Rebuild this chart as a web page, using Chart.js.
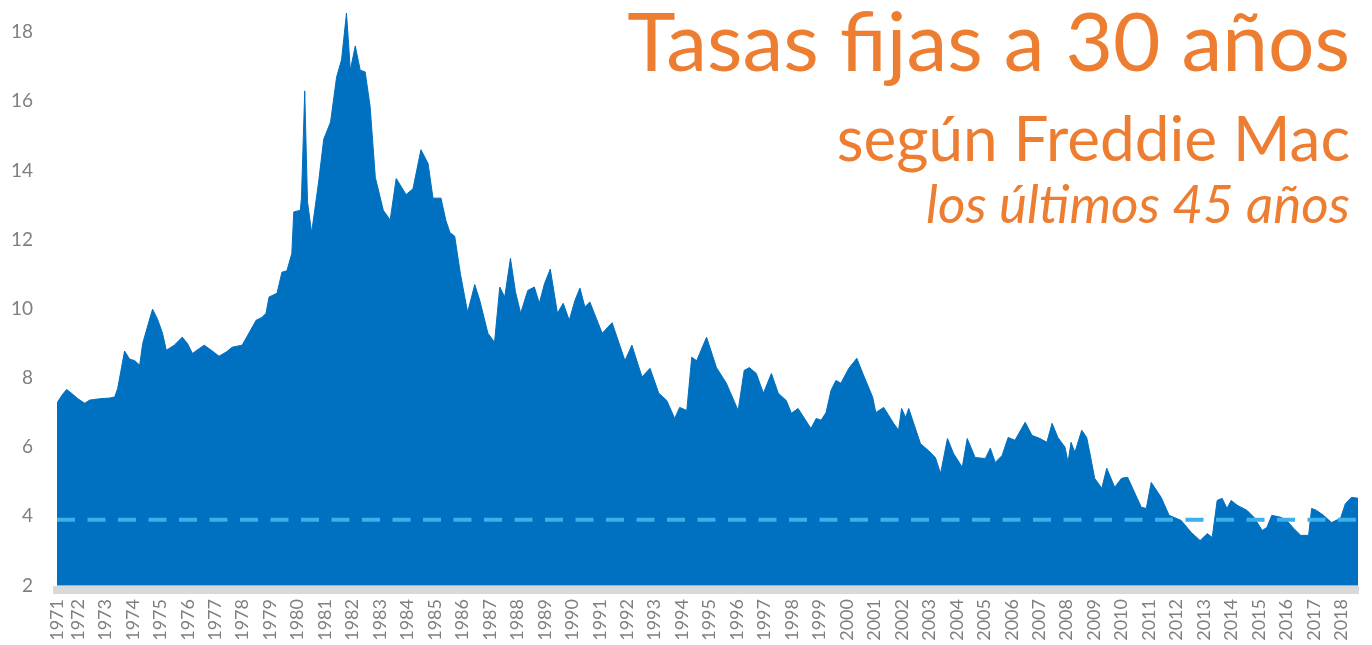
<!DOCTYPE html>
<html>
<head>
<meta charset="utf-8">
<script src="https://cdn.jsdelivr.net/npm/chart.js@4.4.1/dist/chart.umd.min.js"></script>
<style>
  body { margin: 0; background: #fff; }
  #wrap { position: relative; width: 1372px; height: 645px; }
  .title { position: absolute; right: 22px; color: #ed7d31; font-family: Lato, "Open Sans", sans-serif; line-height: 1; white-space: nowrap; }
</style>
</head>
<body>
<div id="wrap">
  <canvas id="myChart"></canvas>
  <div class="title" style="top: -2px; font-size: 82px;">Tasas fijas a 30 años</div>
  <div class="title" style="top: 106px; font-size: 62px;">según Freddie Mac</div>
  <div class="title" style="top: 176px; font-size: 53px; font-style: italic;">los últimos 45 años</div>
</div>
<script>
// fechas en años decimales, tasa en %
const years = [
  1971.24, 1971.42, 1971.59, 1971.78, 1972.0, 1972.25, 1972.43, 1972.8, 1973.16, 1973.34,
  1973.45, 1973.59, 1973.7, 1973.88, 1974.07, 1974.25, 1974.36, 1974.54, 1974.72, 1974.9,
  1975.08, 1975.22, 1975.51, 1975.8, 1975.99, 1976.17, 1976.42, 1976.6, 1976.86, 1977.14,
  1977.4, 1977.62, 1977.98, 1978.23, 1978.49, 1978.7, 1978.85, 1978.96, 1979.25, 1979.43,
  1979.61, 1979.79, 1979.86, 1980.1, 1980.14, 1980.26, 1980.36, 1980.51, 1980.77, 1980.95,
  1981.2, 1981.42, 1981.6, 1981.78, 1981.92, 1982.1, 1982.28, 1982.46, 1982.64, 1982.83,
  1983.12, 1983.37, 1983.59, 1983.95, 1984.2, 1984.49, 1984.75, 1984.93, 1985.22, 1985.4,
  1985.55, 1985.72, 1985.93, 1986.19, 1986.45, 1986.63, 1986.93, 1987.17, 1987.36, 1987.54,
  1987.75, 1987.93, 1988.12, 1988.38, 1988.62, 1988.8, 1988.99, 1989.2, 1989.46, 1989.67,
  1989.89, 1990.1, 1990.28, 1990.46, 1990.64, 1991.09, 1991.45, 1991.92, 1992.17, 1992.54,
  1992.83, 1993.15, 1993.44, 1993.73, 1993.91, 1994.17, 1994.35, 1994.53, 1994.89, 1995.25,
  1995.61, 1996.04, 1996.26, 1996.45, 1996.7, 1996.96, 1997.25, 1997.5, 1997.79, 1997.98,
  1998.22, 1998.69, 1998.88, 1999.06, 1999.24, 1999.42, 1999.6, 1999.78, 2000.07, 2000.36,
  2000.58, 2000.94, 2001.05, 2001.34, 2001.7, 2001.88, 2001.99, 2002.14, 2002.25, 2002.68,
  2002.97, 2003.22, 2003.41, 2003.66, 2003.88, 2004.2, 2004.38, 2004.67, 2005.04, 2005.22,
  2005.4, 2005.65, 2005.87, 2006.12, 2006.49, 2006.74, 2007.03, 2007.28, 2007.47, 2007.68,
  2007.94, 2008.05, 2008.16, 2008.3, 2008.55, 2008.73, 2008.84, 2009.02, 2009.28, 2009.46,
  2009.75, 2010.0, 2010.22, 2010.72, 2010.9, 2011.08, 2011.44, 2011.73, 2012.17, 2012.54,
  2012.86, 2013.12, 2013.3, 2013.48, 2013.66, 2013.84, 2013.99, 2014.21, 2014.57, 2014.82,
  2015.12, 2015.29, 2015.47, 2015.8, 2016.01, 2016.27, 2016.52, 2016.81, 2016.92, 2017.1,
  2017.35, 2017.64, 2017.97, 2018.15, 2018.37, 2018.62
];

const rates = [
  7.28, 7.50, 7.67, 7.55, 7.40, 7.27, 7.36, 7.40, 7.42, 7.45,
  7.70, 8.30, 8.78, 8.55, 8.50, 8.37, 9.00, 9.50, 9.99, 9.70,
  9.30, 8.80, 8.95, 9.18, 9.00, 8.71, 8.85, 8.95, 8.80, 8.63,
  8.75, 8.89, 8.95, 9.30, 9.67, 9.75, 9.87, 10.34, 10.45, 11.06,
  11.10, 11.60, 12.80, 12.85, 13.20, 16.30, 13.10, 12.20, 13.70, 14.90,
  15.40, 16.70, 17.20, 18.55, 16.90, 17.60, 16.90, 16.85, 15.85, 13.80,
  12.85, 12.57, 13.77, 13.30, 13.47, 14.60, 14.20, 13.20, 13.20, 12.55,
  12.20, 12.10, 11.00, 9.90, 10.70, 10.25, 9.29, 9.03, 10.63, 10.34,
  11.46, 10.50, 9.87, 10.53, 10.63, 10.16, 10.73, 11.15, 9.87, 10.16,
  9.67, 10.25, 10.60, 10.05, 10.20, 9.29, 9.60, 8.50, 8.95, 8.03,
  8.28, 7.56, 7.35, 6.83, 7.15, 7.06, 8.60, 8.50, 9.18, 8.30,
  7.85, 7.06, 8.22, 8.30, 8.13, 7.56, 8.13, 7.56, 7.35, 6.98,
  7.12, 6.54, 6.83, 6.78, 7.00, 7.64, 7.93, 7.85, 8.28, 8.57,
  8.13, 7.44, 7.00, 7.15, 6.69, 6.49, 7.12, 6.86, 7.12, 6.10,
  5.90, 5.70, 5.24, 6.25, 5.82, 5.42, 6.25, 5.70, 5.67, 5.97,
  5.56, 5.76, 6.28, 6.20, 6.72, 6.34, 6.25, 6.14, 6.69, 6.28,
  6.00, 5.56, 6.14, 5.85, 6.49, 6.28, 5.85, 5.10, 4.81, 5.39,
  4.84, 5.10, 5.13, 4.26, 4.23, 4.98, 4.55, 4.03, 3.88, 3.53,
  3.30, 3.50, 3.39, 4.46, 4.52, 4.23, 4.46, 4.32, 4.17, 3.97,
  3.59, 3.68, 4.03, 3.97, 3.88, 3.65, 3.45, 3.45, 4.23, 4.17,
  4.03, 3.82, 3.94, 4.37, 4.55, 4.52
];

// línea de referencia (tasa actual aprox.)
const referenceRate = 3.9;

const yearTicks = [];
for (let y = 1971; y <= 2018; y++) yearTicks.push(y);
const rateTicks = [2, 4, 6, 8, 10, 12, 14, 16, 18];
const rateMin = 1.87;
const rateMax = 18.9;

const firstYear = years[0];
const lastYear = years[years.length - 1];

const ctx = document.getElementById("myChart");

new Chart(ctx, {
  type: "line",
  data: {
    datasets: [
      {
        label: "Referencia",
        data: [
          { x: firstYear, y: referenceRate },
          { x: lastYear, y: referenceRate },
        ],
        borderColor: "#3dafea",
        borderWidth: 4,
        borderDash: [18, 12.5],
        pointRadius: 0,
        fill: false,
        order: 0,
      },
      {
        label: "Tasa fija 30 años",
        data: years.map((x, i) => ({ x: x, y: rates[i] })),
        borderColor: "#0070c0",
        backgroundColor: "#0070c0",
        borderWidth: 1,
        pointRadius: 0,
        tension: 0,
        fill: { value: 2 },
        order: 1,
      },
    ],
  },
  options: {
    responsive: true,
    maintainAspectRatio: false,
    animation: false,
    layout: { padding: { left: 0, right: 7, top: 1, bottom: 0 } },
    plugins: {
      legend: { display: false },
      tooltip: { enabled: false },
    },
    scales: {
      x: {
        type: "linear",
        min: firstYear,
        max: lastYear,
        bounds: "data",
        grid: { display: false, drawTicks: false },
        border: { display: true, color: "#d9d9d9", width: 8 },
        afterBuildTicks: (scale) => {
          scale.ticks = yearTicks.map((y) => ({ value: Math.max(y, firstYear) }));
          scale.min = firstYear;
          scale.max = lastYear;
        },
        afterFit: (scale) => {
          scale.height = 55;
        },
        ticks: {
          autoSkip: false,
          minRotation: 90,
          maxRotation: 90,
          padding: 9,
          color: "#7f7f7f",
          font: { family: "Lato", size: 18 },
          callback: (value) => String(Math.floor(value)),
        },
      },
      y: {
        min: rateMin,
        max: rateMax,
        bounds: "data",
        grid: { display: false, drawTicks: false },
        border: { display: false },
        afterBuildTicks: (scale) => {
          scale.ticks = rateTicks.map((v) => ({ value: v }));
          scale.min = rateMin;
          scale.max = rateMax;
        },
        afterFit: (scale) => {
          // sin margen extra arriba/abajo por las etiquetas
          scale.width = 57;
          scale.paddingTop = 0;
          scale.paddingBottom = 0;
        },
        ticks: {
          padding: 24,
          color: "#7f7f7f",
          font: { family: "Lato", size: 19 },
        },
      },
    },
  },
});
</script>
</body>
</html>
